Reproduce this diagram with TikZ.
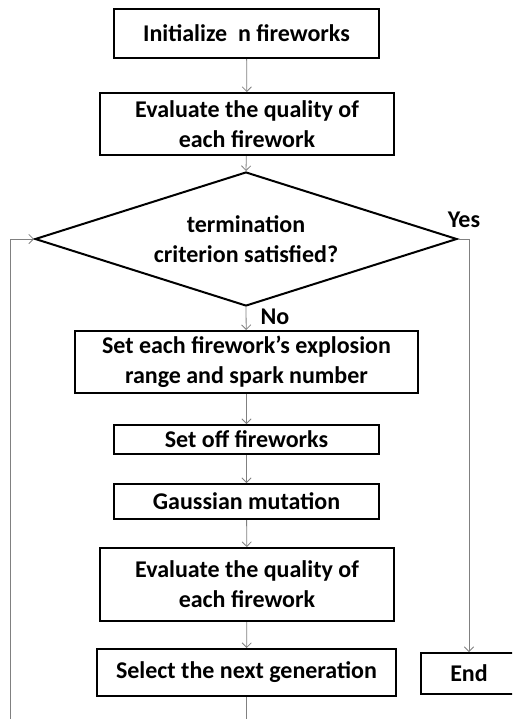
\documentclass[tikz,border=0pt]{standalone}
\usepackage{fontspec}
\setmainfont{Carlito}
\usetikzlibrary{shapes.geometric,arrows.meta}
\begin{document}
\begin{tikzpicture}[x=0.75pt,y=-0.75pt,
  box/.style={draw=black,line width=1.5pt,fill=white,inner sep=0pt,align=center,
    font=\fontsize{18}{22.5}\selectfont\bfseries},
  lbl/.style={inner sep=0pt,font=\fontsize{18}{22.5}\selectfont\bfseries},
  conn/.style={draw=gray,line width=0.6pt},
  arr/.style={conn,-{Straight Barb[length=3.5pt,width=7pt]}}]
\useasboundingbox (0,0) rectangle (512,719);
\clip (0,0) rectangle (512,719);
\node[box,minimum width=198.75pt,minimum height=36.75pt] (init) at (246.5,33.5) {Initialize\ \ n fireworks};
\node[box,minimum width=220.5pt,minimum height=46.5pt] (eval1) at (247,124) {Evaluate the quality of\\each firework};
\node[draw=black,line width=1.5pt,diamond,aspect=3.15,inner sep=0pt,
  minimum width=316.5pt,minimum height=100.5pt,align=center,
  font=\fontsize{18}{22.5}\selectfont\bfseries] (dec) at (246,239) {termination\\criterion satisfied?};
\node[box,minimum width=257.25pt,minimum height=46.5pt] (range) at (246.5,362) {Set each firework’s explosion\\range and spark number};
\node[box,minimum width=198.75pt,minimum height=21.75pt] (setoff) at (246.5,439.5) {Set off fireworks};
\node[box,minimum width=198.75pt,minimum height=26.25pt] (gauss) at (246.5,501.5) {Gaussian mutation};
\node[box,minimum width=220.5pt,minimum height=54.75pt] (eval2) at (247,584.5) {Evaluate the quality of\\each firework};
\node[box,minimum width=224.25pt,minimum height=35.25pt] (select) at (246.5,672.5) {Select the next generation};
\node[box,minimum width=72pt,minimum height=30.75pt] (end) at (469,673.5) {End};
\node[lbl] (yes) at (464,220) {Yes};
\node[lbl] (no) at (275,317) {No};
\coordinate (bot) at (246.5,730);
\coordinate (lb) at (10,730);
\coordinate (rc) at (469,239);
\draw[arr] (init) -- (eval1);
\draw[arr] (eval1) -- (dec.north);
\draw[arr] (dec.south) -- (range);
\draw[arr] (range) -- (setoff);
\draw[arr] (setoff) -- (gauss);
\draw[arr] (gauss) -- (eval2);
\draw[arr] (eval2) -- (select);
\draw[arr] (dec.east) -- (rc) -- (end.north);
\draw[conn] (select) -- (bot);
\draw[arr] (lb) |- (dec.west);
\end{tikzpicture}
\end{document}
